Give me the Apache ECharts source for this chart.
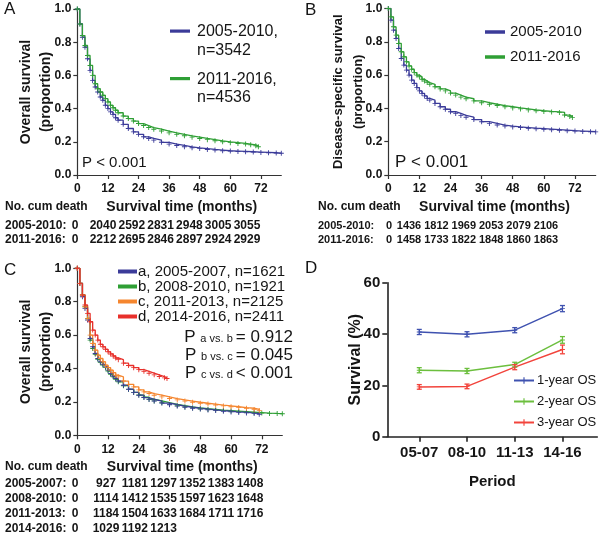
<!DOCTYPE html>
<html><head><meta charset="utf-8">
<script src="https://cdn.jsdelivr.net/npm/echarts@6/dist/echarts.min.js"></script>
<style>html,body{margin:0;padding:0;background:#fff}#c{width:600px;height:537px}</style>
</head><body><div id="c"></div>
<script>
// ---------------- data ----------------
const monthTicks = [0, 12, 24, 36, 48, 60, 72];

// Panel A: overall survival, [month, proportion]
const osA_0510 = [[0,1],[1,0.91],[2,0.83],[3,0.77],[4,0.70],[5,0.63],[6,0.57],[7,0.53],[8,0.50],[9,0.47],[10,0.45],[11,0.42],[12,0.40],[13,0.38],[14,0.365],[15,0.345],[16,0.33],[18,0.305],[20,0.28],[22,0.26],[24,0.245],[26,0.23],[28,0.22],[30,0.21],[33,0.197],[36,0.186],[39,0.178],[42,0.17],[45,0.164],[48,0.159],[51,0.154],[54,0.150],[57,0.146],[60,0.144],[63,0.142],[66,0.140],[69,0.138],[72,0.136],[75,0.134],[78,0.132],[80,0.131]];
const osA_1116 = [[0,1],[1,0.91],[2,0.84],[3,0.78],[4,0.72],[5,0.66],[6,0.60],[7,0.55],[8,0.52],[9,0.50],[10,0.48],[11,0.46],[12,0.44],[13,0.42],[14,0.405],[15,0.39],[16,0.375],[18,0.355],[20,0.34],[22,0.325],[24,0.31],[26,0.298],[28,0.286],[30,0.276],[33,0.265],[36,0.254],[39,0.245],[42,0.236],[45,0.228],[48,0.22],[51,0.213],[54,0.206],[57,0.200],[60,0.195],[63,0.19],[66,0.186],[68,0.182],[70,0.176],[71,0.17]];

// Panel B: disease-specific survival
const dssB_0510 = [[0,1],[1,0.93],[2,0.87],[3,0.82],[4,0.76],[5,0.70],[6,0.66],[7,0.63],[8,0.60],[9,0.57],[10,0.55],[11,0.525],[12,0.505],[13,0.49],[14,0.475],[15,0.46],[16,0.45],[18,0.43],[20,0.41],[22,0.395],[24,0.38],[26,0.37],[28,0.358],[30,0.347],[33,0.333],[36,0.32],[39,0.31],[42,0.30],[45,0.294],[48,0.289],[51,0.285],[54,0.281],[57,0.278],[60,0.275],[63,0.272],[66,0.269],[69,0.266],[72,0.264],[75,0.262],[78,0.26],[80,0.259]];
const dssB_1116 = [[0,1],[1,0.95],[2,0.89],[3,0.84],[4,0.79],[5,0.74],[6,0.71],[7,0.68],[8,0.655],[9,0.635],[10,0.615],[11,0.60],[12,0.59],[13,0.575],[14,0.565],[15,0.555],[16,0.545],[18,0.53],[20,0.517],[22,0.505],[24,0.492],[26,0.48],[28,0.468],[30,0.458],[33,0.445],[36,0.434],[39,0.425],[42,0.417],[45,0.41],[48,0.403],[51,0.397],[54,0.391],[57,0.386],[60,0.382],[63,0.379],[66,0.376],[68,0.36],[70,0.352],[71,0.346]];

// Panel C: overall survival by 3-year period
const osC_a = [[0,1],[1,0.91],[2,0.83],[3,0.76],[4,0.69],[5,0.58],[6,0.53],[7,0.49],[8,0.46],[9,0.44],[10,0.425],[11,0.41],[12,0.39],[13,0.37],[14,0.355],[15,0.34],[16,0.325],[18,0.30],[20,0.276],[22,0.257],[24,0.24],[26,0.226],[28,0.215],[30,0.205],[33,0.193],[36,0.183],[39,0.175],[42,0.168],[45,0.162],[48,0.157],[51,0.152],[54,0.148],[57,0.144],[60,0.14],[63,0.137],[66,0.134],[69,0.13],[71,0.126]];
const osC_b = [[0,1],[1,0.91],[2,0.84],[3,0.77],[4,0.70],[5,0.57],[6,0.52],[7,0.485],[8,0.455],[9,0.435],[10,0.42],[11,0.405],[12,0.385],[13,0.365],[14,0.35],[15,0.335],[16,0.32],[18,0.297],[20,0.275],[22,0.257],[24,0.241],[26,0.228],[28,0.216],[30,0.206],[33,0.195],[36,0.185],[39,0.177],[42,0.17],[45,0.164],[48,0.159],[51,0.155],[54,0.151],[57,0.148],[60,0.145],[63,0.142],[66,0.139],[69,0.136],[72,0.133],[75,0.131],[78,0.13],[80,0.129]];
const osC_c = [[0,1],[1,0.91],[2,0.84],[3,0.77],[4,0.70],[5,0.60],[6,0.55],[7,0.51],[8,0.48],[9,0.46],[10,0.44],[11,0.42],[12,0.405],[13,0.39],[14,0.375],[15,0.36],[16,0.35],[18,0.325],[20,0.305],[22,0.29],[24,0.272],[26,0.26],[28,0.25],[30,0.24],[33,0.23],[36,0.22],[39,0.212],[42,0.205],[45,0.198],[48,0.192],[51,0.187],[54,0.181],[57,0.176],[60,0.171],[63,0.166],[66,0.162],[69,0.155],[71,0.148]];
const osC_d = [[0,1],[1,0.91],[2,0.84],[3,0.78],[4,0.73],[5,0.68],[6,0.63],[7,0.60],[8,0.57],[9,0.545],[10,0.53],[11,0.515],[12,0.50],[13,0.487],[14,0.475],[15,0.463],[16,0.453],[18,0.432],[20,0.418],[22,0.405],[24,0.393],[26,0.383],[28,0.372],[30,0.362],[32,0.352],[34,0.344],[35,0.34]];

// Number of cumulative deaths at 0,12,...,72 months
const cumA_0510 = [0,2040,2592,2831,2948,3005,3055];
const cumA_1116 = [0,2212,2695,2846,2897,2924,2929];
const cumB_0510 = [0,1436,1812,1969,2053,2079,2106];
const cumB_1116 = [0,1458,1733,1822,1848,1860,1863];
const cumC_0507 = [0,927,1181,1297,1352,1383,1408];
const cumC_0810 = [0,1114,1412,1535,1597,1623,1648];
const cumC_1113 = [0,1184,1504,1633,1684,1711,1716];
const cumC_1416 = [0,1029,1192,1213];

// Panel D: survival (%) by period, with error half-widths
const periods = ['05-07','08-10','11-13','14-16'];
const os1yr = [40.8, 39.9, 41.5, 49.9];
const os1yrErr = [1.0, 1.0, 1.0, 1.2];
const os2yr = [25.9, 25.6, 28.1, 37.7];
const os2yrErr = [1.0, 1.0, 0.9, 1.3];
const os3yr = [19.4, 19.6, 27.1, 34.0];
const os3yrErr = [0.9, 0.9, 1.0, 1.7];

// ---------------- styling ----------------
const F = 'Liberation Sans, Arial, Helvetica, sans-serif';
const TXT = '#151515';
const AX = '#333';
const C_BLUE = '#3b3b99', C_GREEN = '#2f9f35', C_ORANGE = '#f5862f', C_RED = '#e8302b';
const D_BLUE = '#3f52b0', D_GREEN = '#6cbf3e', D_RED = '#f2443c';
const PLUS = 'path://M-0.18,-1H0.18V-0.18H1V0.18H0.18V1H-0.18V0.18H-1V-0.18H-0.18Z';

const chart = echarts.init(document.getElementById('c'), null, {renderer: 'canvas'});

function km(name, data, color, gi) {
  return {
    type: 'line', name, data, step: 'end', xAxisIndex: gi, yAxisIndex: gi,
    symbol: PLUS, symbolSize: 5, showSymbol: true, showAllSymbol: true,
    lineStyle: {width: 1.3, color}, itemStyle: {color},
    emphasis: {disabled: true}, z: 2
  };
}
function kmX(gi) {
  return {
    type: 'value', gridIndex: gi, min: 0, max: 80,
    name: 'Survival time (months)', nameLocation: 'middle', nameGap: 25, nameMoveOverlap: false,
    nameTextStyle: {fontFamily: F, fontSize: 14, fontWeight: 'bold', color: TXT, padding: [0,0,0,5]},
    axisLine: {lineStyle: {color: AX, width: 1.2}},
    axisTick: {show: true, length: 4, customValues: monthTicks, lineStyle: {color: AX, width: 1.2}},
    axisLabel: {customValues: monthTicks, margin: 8, fontFamily: F, fontSize: 12, fontWeight: 'bold', color: TXT},
    splitLine: {show: false}
  };
}
function kmY(gi, name, gap, size) {
  return {
    type: 'value', gridIndex: gi, min: 0, max: 1, interval: 0.2,
    name, nameLocation: 'middle', nameGap: gap, nameRotate: 90, nameMoveOverlap: false,
    nameTextStyle: {fontFamily: F, fontSize: size, fontWeight: 'bold', lineHeight: 20, color: TXT},
    axisLine: {show: true, lineStyle: {color: AX, width: 1.2}},
    axisTick: {show: true, length: 4, lineStyle: {color: AX, width: 1.2}},
    axisLabel: {margin: 6, formatter: v => v.toFixed(1), fontFamily: F, fontSize: 12, fontWeight: 'bold', color: TXT},
    splitLine: {show: false}
  };
}
function errSeries(name, vals, errs, color) {
  return {
    type: 'custom', name, xAxisIndex: 3, yAxisIndex: 3, silent: true, z: 3,
    data: vals.map((v, i) => [i + 1, v - errs[i], v + errs[i]]),
    renderItem(params, api) {
      const x = api.value(0);
      const lo = api.coord([x, api.value(1)]);
      const hi = api.coord([x, api.value(2)]);
      const w = 2.5, st = {stroke: color, lineWidth: 1.3};
      return {type: 'group', children: [
        {type: 'line', shape: {x1: lo[0], y1: lo[1], x2: hi[0], y2: hi[1]}, style: st},
        {type: 'line', shape: {x1: lo[0]-w, y1: lo[1], x2: lo[0]+w, y2: lo[1]}, style: st},
        {type: 'line', shape: {x1: hi[0]-w, y1: hi[1], x2: hi[0]+w, y2: hi[1]}, style: st}
      ]};
    }
  };
}
function osLine(name, vals, color) {
  return {
    type: 'line', name, xAxisIndex: 3, yAxisIndex: 3,
    data: vals.map((v, i) => [i + 1, v]),
    symbol: PLUS, symbolSize: 5, lineStyle: {width: 1.5, color}, itemStyle: {color},
    emphasis: {disabled: true}, z: 2
  };
}

// ---------- texts (graphic) ----------
const g = [];
function txt(x, y, text, size, weight, align) {
  g.push({type: 'text', x, y, silent: true, style: {
    text, fill: TXT, font: (weight || 'normal') + ' ' + size + 'px ' + F,
    align: align || 'left', verticalAlign: 'middle'}});
}
// panel letters
txt(4, 9, 'A', 17); txt(305, 10, 'B', 17); txt(4, 270, 'C', 17); txt(305, 268, 'D', 17);
// P values
txt(82, 163, 'P < 0.001', 15); txt(395, 162, 'P < 0.001', 17);
['a vs. b = 0.912', 'b vs. c = 0.045', 'c vs. d < 0.001'].forEach((s, i) => {
  const parts = s.split(/ (?=[=<])/);
  g.push({type: 'text', x: 293, y: 337 + i * 18, silent: true, style: {
    text: '{p|P }{s|' + parts[0] + ' }{p|' + parts[1] + '}',
    rich: {p: {fontFamily: F, fontSize: 17, fill: TXT, verticalAlign: 'bottom'},
           s: {fontFamily: F, fontSize: 11, fill: TXT, verticalAlign: 'bottom', padding: [0,0,1,0]}},
    align: 'right', verticalAlign: 'middle'}});
});
// Panel A legend
[[C_BLUE, '2005-2010,', 'n=3542', 31], [C_GREEN, '2011-2016,', 'n=4536', 78.5]].forEach(([c, a, b, y]) => {
  g.push({type: 'rect', silent: true, shape: {x: 170, y: y - 1.5, width: 20, height: 3.2}, style: {fill: c}});
  txt(197, y + 1, a, 16); txt(197, y + 19.5, b, 16);
});
// tables
function table(x0, y0, rows, zeroX, startX, step, size) {
  rows.forEach(([label, vals], r) => {
    const y = y0 + r * (rows.length > 2 ? 15 : 14);
    txt(x0, y, label, size, 'bold');
    vals.forEach((v, i) => {
      const x = i === 0 ? zeroX : startX + (i - 1) * step;
      txt(x, y, String(v), size, 'bold', 'center');
    });
  });
}
txt(5, 207, 'No. cum death', 12, 'bold');
table(5, 226, [['2005-2010:', cumA_0510], ['2011-2016:', cumA_1116]], 75, 103, 28.8, 12);
txt(318, 207, 'No. cum death', 12, 'bold');
table(318, 226, [['2005-2010:', cumB_0510], ['2011-2016:', cumB_1116]], 389, 409, 27.4, 11);
txt(5, 467, 'No. cum death', 12, 'bold');
table(5, 483.5, [['2005-2007:', cumC_0507], ['2008-2010:', cumC_0810], ['2011-2013:', cumC_1113], ['2014-2016:', cumC_1416]], 75, 106, 28.8, 12);

const legendText = {fontFamily: F, fontSize: 15, color: TXT};

const option = {
  animation: false,
  backgroundColor: '#fff',
  grid: [
    {left: 77.3, top: 9, width: 204, height: 166, outerBoundsMode: 'none'},
    {left: 388.3, top: 8.5, width: 207.4, height: 166.5, outerBoundsMode: 'none'},
    {left: 77.3, top: 268.3, width: 205, height: 167, outerBoundsMode: 'none'},
    {left: 387.3, top: 282.7, width: 210, height: 154, outerBoundsMode: 'none'}
  ],
  xAxis: [kmX(0), kmX(1), kmX(2), {
    type: 'value', gridIndex: 3, min: 0.33, max: 4.73,
    name: 'Period', nameLocation: 'middle', nameGap: 38, nameMoveOverlap: false,
    nameTextStyle: {fontFamily: F, fontSize: 15, fontWeight: 'bold', color: TXT},
    axisLine: {lineStyle: {color: '#222', width: 1.6}},
    axisTick: {show: true, length: 5, customValues: [1,2,3,4], lineStyle: {color: '#222', width: 1.6}},
    axisLabel: {customValues: [1,2,3,4], formatter: v => periods[Math.round(v) - 1] || '', margin: 9,
      fontFamily: F, fontSize: 15, fontWeight: 'bold', color: TXT},
    splitLine: {show: false}
  }],
  yAxis: [
    kmY(0, 'Overall survival\n(proportion)', 21, 14),
    kmY(1, 'Disease-specific survival\n(proportion)', 20, 13),
    kmY(2, 'Overall survival\n(proportion)', 21, 14),
    {
      type: 'value', gridIndex: 3, min: 0, max: 60, interval: 20,
      name: 'Survival (%)', nameLocation: 'middle', nameGap: 24, nameRotate: 90, nameMoveOverlap: false,
      nameTextStyle: {fontFamily: F, fontSize: 16, fontWeight: 'bold', color: TXT},
      axisLine: {show: true, lineStyle: {color: '#222', width: 1.6}},
      axisTick: {show: true, length: 5, lineStyle: {color: '#222', width: 1.6}},
      axisLabel: {margin: 7, fontFamily: F, fontSize: 15, fontWeight: 'bold', color: TXT},
      splitLine: {show: false}
    }
  ],
  legend: [
    {data: ['2005-2010', '2011-2016'], left: 485, top: 24, padding: 0, orient: 'vertical', icon: 'rect',
     itemWidth: 20, itemHeight: 3.5, itemGap: 9, textStyle: Object.assign({lineHeight: 16}, legendText),
     selectedMode: false},
    {data: ['a, 2005-2007, n=1621', 'b, 2008-2010, n=1921', 'c, 2011-2013, n=2125', 'd, 2014-2016, n=2411'],
     left: 118, top: 264, padding: 0, orient: 'vertical', icon: 'rect', itemWidth: 19, itemHeight: 4, itemGap: 0,
     textStyle: Object.assign({lineHeight: 14.6, padding: [0,0,0,-4]}, legendText), selectedMode: false},
    {data: ['1-year OS', '2-year OS', '3-year OS'], left: 513, top: 374, padding: 0, orient: 'vertical',
     itemWidth: 20, itemHeight: 8, itemGap: 8,
     textStyle: {fontFamily: F, fontSize: 13, color: TXT, lineHeight: 13, padding: [0,0,0,-2]}, selectedMode: false}
  ],
  series: [
    km('2005-2010, n=3542', osA_0510, C_BLUE, 0),
    km('2011-2016, n=4536', osA_1116, C_GREEN, 0),
    km('2005-2010', dssB_0510, C_BLUE, 1),
    km('2011-2016', dssB_1116, C_GREEN, 1),
    km('b, 2008-2010, n=1921', osC_b, C_GREEN, 2),
    km('a, 2005-2007, n=1621', osC_a, C_BLUE, 2),
    km('c, 2011-2013, n=2125', osC_c, C_ORANGE, 2),
    km('d, 2014-2016, n=2411', osC_d, C_RED, 2),
    osLine('1-year OS', os1yr, D_BLUE),
    osLine('2-year OS', os2yr, D_GREEN),
    osLine('3-year OS', os3yr, D_RED),
    errSeries('1-year OS err', os1yr, os1yrErr, D_BLUE),
    errSeries('2-year OS err', os2yr, os2yrErr, D_GREEN),
    errSeries('3-year OS err', os3yr, os3yrErr, D_RED)
  ],
  graphic: g
};
chart.setOption(option);
</script>
</body></html>
